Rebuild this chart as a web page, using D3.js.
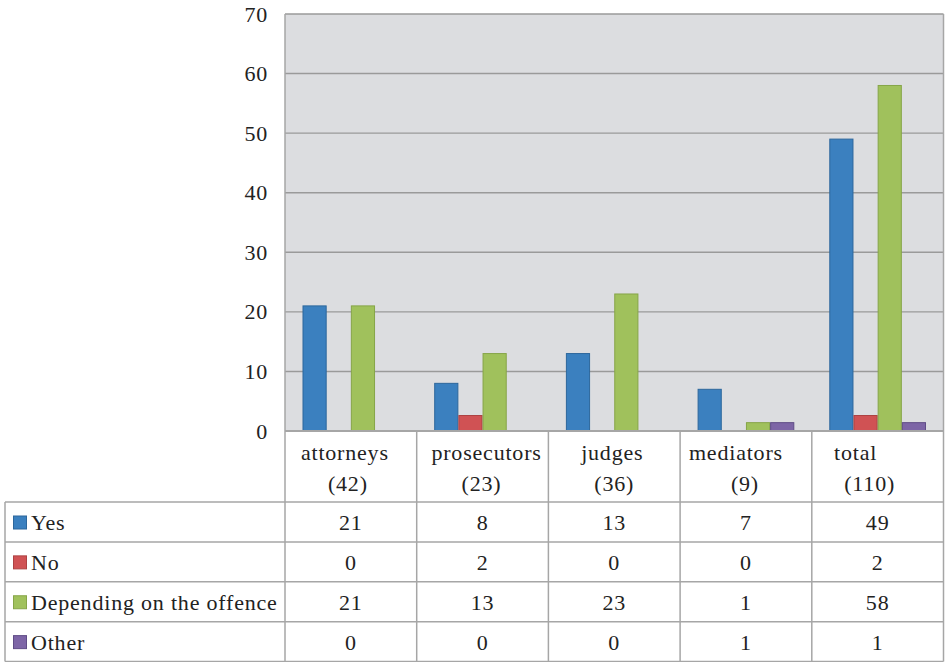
<!DOCTYPE html>
<html>
<head>
<meta charset="utf-8">
<script src="https://cdn.jsdelivr.net/npm/d3@7"></script>
</head>
<body style="margin:0">
<svg width="947" height="662" font-family="Liberation Serif"></svg>
<script>
const FONT = 'Liberation Serif'

// chart data
const categories = ['attorneys', 'prosecutors', 'judges', 'mediators', 'total']
const counts = ['(42)', '(23)', '(36)', '(9)', '(110)']
const series = ['Yes', 'No', 'Depending on the offence', 'Other']
// values printed in the table
const yesVals = [21, 8, 13, 7, 49]
const noVals = [0, 2, 0, 0, 2]
const depVals = [21, 13, 23, 1, 58]
const otherVals = [0, 0, 0, 1, 1]
// bar heights as drawn (small bars are drawn a bit taller than printed)
const yesBars = [21, 8, 13, 7, 49]
const noBars = [0, 2.6, 0, 0, 2.6]
const depBars = [21, 13, 23, 1.4, 58]
const otherBars = [0, 0, 0, 1.4, 1.4]
const yTicks = [0, 10, 20, 30, 40, 50, 60, 70]

const tableVals = [yesVals, noVals, depVals, otherVals]
const barVals = [yesBars, noBars, depBars, otherBars]
const fills = ['#3b80bf', '#d05254', '#a0c15c', '#7d65a6']
const strokes = ['#2d679c', '#ad4243', '#86a548', '#5f4c86']

const PLOT_L = 285
const PLOT_R = 943.5
const PLOT_T = 14
const PLOT_B = 431
const HEAD_B = 502
const TBL_B = 661.5
const TBL_L = 5
const GRP_PAD = 17.5
const LINE_C = '#a6a6a6'

// small nudges so the header text sits like the original
const headShift1 = [-6, 4, -2, -10, -22]
const headShift2 = [-3, -1, 0, -1, -8]

const svg = d3.select('svg')

function label (sel) {
  return sel
    .attr('font-family', FONT)
    .attr('font-size', 22)
    .style('font-family', FONT)
    .style('letter-spacing', '0.8px')
    .attr('fill', '#222')
}

function tline (sel) {
  return sel.attr('stroke', LINE_C).attr('stroke-width', 1.5)
}

const x = d3.scaleBand().domain(categories).range([PLOT_L, PLOT_R]).padding(0)
const xs = d3.scaleBand().domain(series).range([GRP_PAD, x.bandwidth() - GRP_PAD]).padding(0)
const y = d3.scaleLinear().domain([0, 70]).range([PLOT_B, PLOT_T])
const rowY = d3.scaleBand().domain(series).range([HEAD_B, TBL_B])

// plot background
svg.append('rect')
  .attr('x', PLOT_L).attr('y', PLOT_T)
  .attr('width', PLOT_R - PLOT_L).attr('height', PLOT_B - PLOT_T)
  .attr('fill', '#dcdde0')

// gridlines
svg.append('g')
  .selectAll('line')
  .data(yTicks)
  .join('line')
  .attr('stroke', '#9a9a9a')
  .attr('stroke-width', 1.4)
  .attr('x1', PLOT_L).attr('x2', PLOT_R)
  .attr('y1', d => y(d)).attr('y2', d => y(d))

// y axis labels
svg.append('g')
  .selectAll('text')
  .data(yTicks)
  .join('text')
  .call(label)
  .attr('x', 268)
  .attr('y', d => y(d) + 7.5)
  .attr('text-anchor', 'end')
  .text(d => d)

// bars
const groups = svg.append('g')
  .selectAll('g')
  .data(categories)
  .join('g')
  .attr('transform', d => 'translate(' + x(d) + ',0)')

groups.selectAll('rect')
  .data((c, ci) => series.map((s, si) => ({ s, si, v: barVals[si][ci] })))
  .join('rect')
  .filter(d => d.v > 0)
  .attr('x', d => xs(d.s) + 0.5)
  .attr('y', d => y(d.v))
  .attr('width', xs.bandwidth() - 1)
  .attr('height', d => y(0) - y(d.v))
  .attr('fill', d => fills[d.si])
  .attr('stroke', d => strokes[d.si])
  .attr('stroke-width', 1)

// table lines
const tl = svg.append('g')
tl.append('line').call(tline).attr('x1', PLOT_L).attr('x2', PLOT_L).attr('y1', PLOT_T).attr('y2', TBL_B)
tl.append('line').call(tline).attr('x1', PLOT_R).attr('x2', PLOT_R).attr('y1', PLOT_T).attr('y2', TBL_B)
tl.append('line').call(tline).attr('x1', TBL_L).attr('x2', TBL_L).attr('y1', HEAD_B).attr('y2', TBL_B)
tl.append('line').call(tline).attr('x1', PLOT_L).attr('x2', PLOT_R).attr('y1', PLOT_B).attr('y2', PLOT_B)
  .attr('stroke-width', 2)
tl.selectAll('.vc')
  .data(categories.slice(1))
  .join('line')
  .call(tline)
  .attr('x1', d => x(d)).attr('x2', d => x(d))
  .attr('y1', PLOT_B).attr('y2', TBL_B)
tl.selectAll('.hr')
  .data(series)
  .join('line')
  .call(tline)
  .attr('x1', TBL_L).attr('x2', PLOT_R)
  .attr('y1', d => rowY(d)).attr('y2', d => rowY(d))
tl.append('line').call(tline).attr('x1', TBL_L).attr('x2', PLOT_R).attr('y1', TBL_B).attr('y2', TBL_B)

// header text
const head = svg.append('g')
head.selectAll('.h1')
  .data(categories)
  .join('text')
  .call(label)
  .attr('text-anchor', 'middle')
  .attr('x', (d, i) => x(d) + x.bandwidth() / 2 + headShift1[i])
  .attr('y', 460)
  .text(d => d)
head.selectAll('.h2')
  .data(counts)
  .join('text')
  .call(label)
  .attr('text-anchor', 'middle')
  .attr('x', (d, i) => x(categories[i]) + x.bandwidth() / 2 + headShift2[i])
  .attr('y', 491)
  .text(d => d)

// legend column
const rows = svg.append('g')
  .selectAll('g')
  .data(series)
  .join('g')
  .attr('transform', d => 'translate(0,' + rowY(d) + ')')

rows.append('rect')
  .attr('x', 13.5).attr('y', 14)
  .attr('width', 13).attr('height', 13)
  .attr('fill', (d, i) => fills[i])
  .attr('stroke', (d, i) => strokes[i])

rows.append('text')
  .call(label)
  .attr('x', 31)
  .attr('y', 28)
  .text(d => d)

rows.selectAll('.v')
  .data((s, si) => categories.map((c, ci) => ({ c, v: tableVals[si][ci] })))
  .join('text')
  .call(label)
  .attr('text-anchor', 'middle')
  .attr('x', d => x(d.c) + x.bandwidth() / 2)
  .attr('y', 28)
  .text(d => d.v)
</script>
</body>
</html>
